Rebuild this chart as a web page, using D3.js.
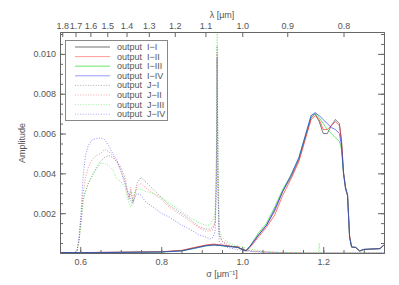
<!DOCTYPE html>
<html>
<head>
<meta charset="utf-8">
<script src="https://cdn.jsdelivr.net/npm/d3@7"></script>
<style>
  body { margin: 0; background: #fff; }
  text { font-family: "Liberation Sans", Arial, sans-serif; fill: #555; }
  .axis path, .axis line { stroke: #666; }
  .axis text { font-size: 9px; fill: #555; }
</style>
</head>
<body>
<svg class="chart" width="399" height="285"></svg>
<script>
// wavenumber grids (um^-1)
const sigSolid = [0.55, 0.6, 0.65, 0.7, 0.75, 0.8, 0.85, 0.88, 0.91, 0.93, 0.95, 0.97, 0.99, 1.0, 1.01, 1.02,
  1.04, 1.06, 1.08, 1.1, 1.12, 1.14, 1.16, 1.17, 1.18, 1.19, 1.2, 1.21, 1.22, 1.23, 1.24, 1.245, 1.25,
  1.255, 1.26, 1.265, 1.27, 1.28, 1.29, 1.3, 1.32, 1.34, 1.35]
const sigDot = [0.55, 0.585, 0.592, 0.597, 0.602, 0.607, 0.613, 0.62, 0.63, 0.64, 0.65, 0.66, 0.67, 0.68,
  0.69, 0.70, 0.71, 0.715, 0.72, 0.725, 0.73, 0.735, 0.74, 0.75, 0.76, 0.78, 0.80, 0.82, 0.85, 0.87,
  0.895, 0.91, 0.92, 0.928, 0.933, 0.936, 0.938, 0.940, 0.943, 0.95, 0.96, 0.98, 1.0, 1.02, 1.05, 1.08,
  1.1, 1.15, 1.188, 1.19, 1.192, 1.2, 1.3, 1.35]

// output I (solid)
const outII = [0.00002, 0.00002, 0.00003, 0.00004, 0.00005, 0.00006, 0.00012, 0.00025, 0.00038, 0.00042, 0.00038,
  0.00033, 0.0003, 0.00018, 0.00012, 0.00035, 0.0009, 0.0014, 0.0021, 0.0031, 0.0038, 0.0047, 0.0061, 0.0068,
  0.0070, 0.0066, 0.0060, 0.0060, 0.0064, 0.0067, 0.0065, 0.0056, 0.0040, 0.0032, 0.0029, 0.0008, 0.0003,
  0.00028, 0.0001, 0.00018, 0.0002, 0.00022, 0.0004]
const outIII = [0.00002, 0.00002, 0.00003, 0.00004, 0.00005, 0.00006, 0.00013, 0.00027, 0.00040, 0.00045, 0.00040,
  0.00034, 0.0003, 0.00017, 0.0001, 0.0003, 0.0008, 0.0013, 0.0019, 0.0029, 0.0037, 0.0046, 0.0060, 0.0067,
  0.0069, 0.0067, 0.0062, 0.0062, 0.0064, 0.0066, 0.0064, 0.0057, 0.0041, 0.0033, 0.0029, 0.0009, 0.0003,
  0.00028, 0.0001, 0.00018, 0.0002, 0.00022, 0.0004]
const outIIII = [0.00002, 0.00002, 0.00002, 0.00003, 0.00004, 0.00005, 0.0001, 0.00022, 0.00035, 0.0004, 0.00036,
  0.00032, 0.00028, 0.00016, 0.00012, 0.00038, 0.0010, 0.0015, 0.0023, 0.0032, 0.0039, 0.0048, 0.0062, 0.0069,
  0.0070, 0.0068, 0.0065, 0.0062, 0.0060, 0.0058, 0.0056, 0.0052, 0.0040, 0.0033, 0.0029, 0.0008, 0.0003,
  0.00028, 0.0001, 0.00018, 0.0002, 0.00022, 0.0004]
const outIIV = [0.00002, 0.00002, 0.00002, 0.00003, 0.00004, 0.00005, 0.0001, 0.00023, 0.00036, 0.0004, 0.00037,
  0.00032, 0.00028, 0.00016, 0.00012, 0.00036, 0.0009, 0.0014, 0.0022, 0.0031, 0.0039, 0.0048, 0.0062, 0.0069,
  0.00705, 0.0069, 0.0067, 0.0065, 0.0063, 0.0062, 0.0060, 0.0054, 0.0040, 0.0033, 0.0029, 0.0008, 0.0003,
  0.00028, 0.0001, 0.00018, 0.0002, 0.00022, 0.0004]

// output J (dotted)
const outJI = [0, 0, 0.0001, 0.0006, 0.0016, 0.0027, 0.0031, 0.0035, 0.0039, 0.0043, 0.0046, 0.0048, 0.0049,
  0.0048, 0.0046, 0.0043, 0.0038, 0.0033, 0.0027, 0.0031, 0.0025, 0.0029, 0.0035, 0.0038, 0.0036, 0.0032,
  0.0028, 0.0024, 0.0020, 0.0017, 0.0013, 0.0012, 0.0012, 0.0013, 0.0016, 0.0040, 0.0104, 0.0040, 0.0010,
  0.0006, 0.0004, 0.0003, 0.0002, 0.0001, 0.00005, 0.00003, 0, 0, 0, 0, 0, 0, 0, 0]
const outJII = [0, 0, 0.0001, 0.0007, 0.0018, 0.0030, 0.0038, 0.0043, 0.0047, 0.0049, 0.0050, 0.0052, 0.0051,
  0.0049, 0.0046, 0.0042, 0.0036, 0.0031, 0.0028, 0.0033, 0.0026, 0.0030, 0.0033, 0.0035, 0.0033, 0.0030,
  0.0027, 0.0023, 0.0019, 0.0016, 0.00125, 0.0011, 0.0011, 0.0012, 0.0015, 0.0035, 0.0100, 0.0035, 0.0009,
  0.0006, 0.0005, 0.0003, 0.0002, 0.00012, 0.00006, 0.00003, 0.00002, 0.00001, 0, 0, 0, 0, 0, 0]
const outJIII = [0, 0, 0.0001, 0.0006, 0.0015, 0.0026, 0.0031, 0.0035, 0.0039, 0.0042, 0.0045, 0.0045, 0.0044,
  0.0042, 0.0037, 0.0036, 0.0033, 0.0029, 0.0025, 0.0023, 0.0028, 0.0031, 0.0032, 0.0032, 0.0031, 0.0030,
  0.0028, 0.0025, 0.0021, 0.0018, 0.0015, 0.0014, 0.0014, 0.0017, 0.0020, 0.0050, 0.0120, 0.0050, 0.0012,
  0.0008, 0.0006, 0.0004, 0.0003, 0.0002, 0.0001, 0.00005, 0.00003, 0.00001, 0, 0.0005, 0, 0, 0, 0]
const outJIV = [0, 0, 0.0001, 0.0008, 0.0020, 0.0038, 0.0049, 0.0054, 0.0057, 0.00575, 0.00578, 0.0057, 0.0054,
  0.0050, 0.0047, 0.0041, 0.0035, 0.0032, 0.0030, 0.0026, 0.0025, 0.0028, 0.0030, 0.0029, 0.0026, 0.0023,
  0.0020, 0.0018, 0.0014, 0.0012, 0.0009, 0.0008, 0.0007, 0.0008, 0.0011, 0.0030, 0.0098, 0.0030, 0.0006,
  0.0004, 0.0003, 0.0002, 0.00012, 0.00008, 0.00004, 0.00002, 0.00001, 0, 0, 0, 0, 0, 0, 0]

const seriesNames = ['output  I\u2212I', 'output  I\u2212II', 'output  I\u2212III', 'output  I\u2212IV',
  'output  J\u2212I', 'output  J\u2212II', 'output  J\u2212III', 'output  J\u2212IV']
const seriesColors = ['#333', '#f22', '#2d2', '#22f', '#555', '#f44', '#3e3', '#44f']

const sigTicks = [0.6, 0.8, 1.0, 1.2]
const ampTicks = [0.002, 0.004, 0.006, 0.008, 0.010]
const lamTicks = [1.8, 1.7, 1.6, 1.5, 1.4, 1.3, 1.2, 1.1, 1.0, 0.9, 0.8]

const x = d3.scaleLinear([0.55, 1.35], [60, 384])
const y = d3.scaleLinear([0, 0.0111], [253, 32])

const svg = d3.select('.chart')

svg.append('clipPath').attr('id', 'plot')
  .append('rect')
    .attr('x', 60).attr('y', 32).attr('width', 324).attr('height', 221)

const series = [
  {name: seriesNames[0], color: seriesColors[0], sig: sigSolid, amp: outII, dotted: false},
  {name: seriesNames[1], color: seriesColors[1], sig: sigSolid, amp: outIII, dotted: false},
  {name: seriesNames[2], color: seriesColors[2], sig: sigSolid, amp: outIIII, dotted: false},
  {name: seriesNames[3], color: seriesColors[3], sig: sigSolid, amp: outIIV, dotted: false},
  {name: seriesNames[4], color: seriesColors[4], sig: sigDot, amp: outJI, dotted: true},
  {name: seriesNames[5], color: seriesColors[5], sig: sigDot, amp: outJII, dotted: true},
  {name: seriesNames[6], color: seriesColors[6], sig: sigDot, amp: outJIII, dotted: true},
  {name: seriesNames[7], color: seriesColors[7], sig: sigDot, amp: outJIV, dotted: true}
]

const line = d3.line()
  .x((d) => x(d[0]))
  .y((d) => y(d[1]))

// dotted first, solid on top
const drawOrder = [4, 5, 6, 7, 0, 1, 2, 3]
svg.append('g').attr('clip-path', 'url(#plot)')
  .selectAll('path')
  .data(drawOrder.map((i) => series[i]))
  .join('path')
    .attr('d', (s) => line(s.sig.map((v, i) => [v, s.amp[i]])))
    .attr('fill', 'none')
    .attr('stroke', (s) => s.color)
    .attr('stroke-width', (s) => s.dotted ? 1 : 0.8)
    .attr('stroke-dasharray', (s) => s.dotted ? '1,1.6' : null)
    .attr('opacity', (s) => s.dotted ? 0.6 : 0.8)

// bottom axis
svg.append('g').attr('class', 'axis')
  .attr('transform', 'translate(0,253)')
  .call(d3.axisBottom(x).tickValues(sigTicks).tickFormat(d3.format('.1f'))
    .tickSizeInner(-6).tickSizeOuter(0).tickPadding(6))
svg.append('g').attr('class', 'axis')
  .attr('transform', 'translate(0,253)')
  .call(d3.axisBottom(x).tickValues(d3.range(0.55, 1.351, 0.05)).tickFormat('')
    .tickSizeInner(-3).tickSizeOuter(0))

// top axis (wavelength)
svg.append('g').attr('class', 'axis')
  .attr('transform', 'translate(0,32)')
  .call(d3.axisTop(x).tickValues(lamTicks.map((l) => 1 / l))
    .tickFormat((d, i) => d3.format('.1f')(lamTicks[i]))
    .tickSizeInner(-5).tickSizeOuter(0).tickPadding(3))

// left and right axes
svg.append('g').attr('class', 'axis')
  .attr('transform', 'translate(60,0)')
  .call(d3.axisLeft(y).tickValues(ampTicks).tickFormat(d3.format('.3f'))
    .tickSizeInner(-6).tickSizeOuter(0).tickPadding(4))
svg.append('g').attr('class', 'axis')
  .attr('transform', 'translate(60,0)')
  .call(d3.axisLeft(y).tickValues(d3.range(0.0005, 0.0111, 0.0005)).tickFormat('')
    .tickSizeInner(-3).tickSizeOuter(0))
svg.append('g').attr('class', 'axis')
  .attr('transform', 'translate(384,0)')
  .call(d3.axisRight(y).tickValues(ampTicks).tickFormat('')
    .tickSizeInner(-6).tickSizeOuter(0))
svg.append('g').attr('class', 'axis')
  .attr('transform', 'translate(384,0)')
  .call(d3.axisRight(y).tickValues(d3.range(0.0005, 0.0111, 0.0005)).tickFormat('')
    .tickSizeInner(-3).tickSizeOuter(0))

// axis titles
svg.append('text')
  .text('Amplitude')
  .attr('text-anchor', 'middle')
  .attr('transform', 'translate(25, 143) rotate(270)')
  .attr('font-size', '9px')
svg.append('text')
  .text('\u03c3 [\u03bcm\u207b\u00b9]')
  .attr('text-anchor', 'middle')
  .attr('x', 222).attr('y', 277)
  .attr('font-size', '9px')
svg.append('text')
  .text('\u03bb [\u03bcm]')
  .attr('text-anchor', 'middle')
  .attr('x', 222).attr('y', 18)
  .attr('font-size', '9px')

// legend
const legend = svg.append('g')
legend.append('rect')
  .attr('x', 65.5).attr('y', 40.5).attr('width', 102).attr('height', 80)
  .attr('fill', '#fff').attr('stroke', '#888')
const row = legend.selectAll('g.row')
  .data(series)
  .join('g')
    .attr('class', 'row')
    .attr('transform', (d, i) => `translate(0, ${47 + i * 9.6})`)
row.append('line')
  .attr('x1', 75).attr('x2', 110)
  .attr('stroke', (d) => d.color)
  .attr('stroke-width', (d, i) => (i === 0 || i === 2) ? 1.6 : 1)
  .attr('stroke-dasharray', (d) => d.dotted ? '1,1.6' : null)
  .attr('opacity', 0.45)
row.append('text')
  .text((d) => d.name)
  .attr('x', 117).attr('y', 3)
  .attr('font-size', '9px')
  .style('white-space', 'pre')
</script>
</body>
</html>
